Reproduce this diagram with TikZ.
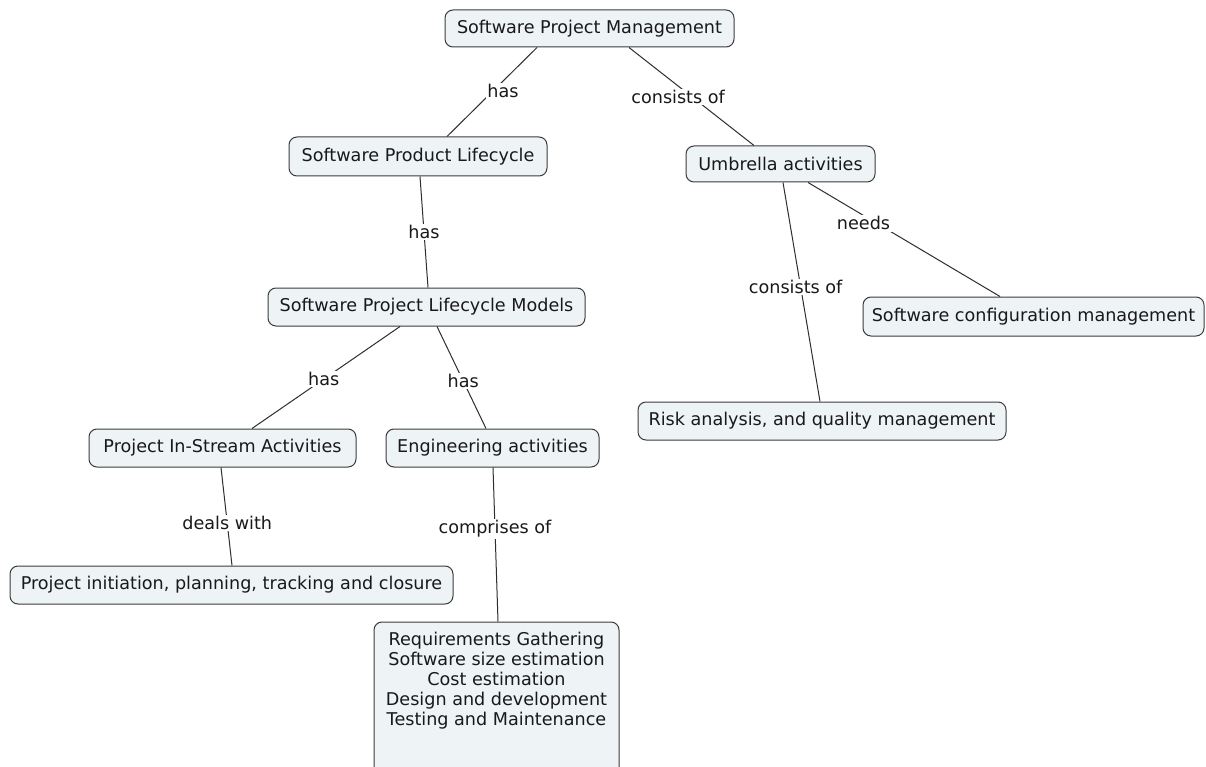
\documentclass[tikz,border=0pt]{standalone}
\usepackage{fontspec}
\setmainfont{DejaVu Sans}
\definecolor{boxfill}{HTML}{EEF3F5}
\definecolor{boxline}{HTML}{3C3C3C}
\definecolor{linkline}{HTML}{2E2E2E}
\newcommand{\mapfont}{\fontsize{17.6pt}{20pt}\selectfont}
\tikzset{
  concept/.style={draw=boxline, fill=boxfill, rounded corners=8pt, line width=1pt,
    font=\mapfont, inner sep=0pt, text=black!90},
  link/.style={draw=linkline, line width=1pt},
  tag/.style={fill=white, inner sep=1.5pt, font=\mapfont, text=black!90}
}
\begin{document}
\begin{tikzpicture}[x=1pt,y=-1pt]
\clip (0,0) rectangle (1206,767);
\fill[white] (0,0) rectangle (1206,767);

% concepts
\node[concept, minimum width=289, minimum height=37] (spm) at (589.5,28.5) {Software Project Management};
\node[concept, minimum width=258, minimum height=39] (spl) at (418,156.5) {Software Product Lifecycle};
\node[concept, minimum width=189, minimum height=36] (umb) at (780.5,164) {Umbrella activities};
\node[concept, minimum width=317, minimum height=38] (splm) at (426.5,307) {Software Project Lifecycle Models};
\node[concept, minimum width=341, minimum height=39] (scm) at (1033.5,316.5) {Software configuration management};
\node[concept, minimum width=368, minimum height=38] (risk) at (822,421) {Risk analysis, and quality management};
\node[concept, minimum width=267, minimum height=38] (pisa) at (222.5,448) {Project In-Stream Activities};
\node[concept, minimum width=213, minimum height=38] (eng) at (492.5,448) {Engineering activities};
\node[concept, minimum width=443, minimum height=38] (pip) at (231.5,585) {Project initiation, planning, tracking and closure};
\node[concept, minimum width=245, minimum height=160] (req) at (496.5,702) {};
\node[font=\mapfont, text=black!90, align=center, anchor=north, inner sep=0pt] (reqtext) at ([yshift=-10]req.north)
  {Requirements Gathering\\Software size estimation\\Cost estimation\\Design and development\\Testing and Maintenance};

% links
\path[link] ([xshift=-52.5]spm.south) -- node[tag, pos=0.49, xshift=10] {has} ([xshift=29]spl.north);
\path[link] ([xshift=39.5]spm.south) -- node[tag, pos=0.505, xshift=-14] {consists of} ([xshift=-26.5]umb.north);
\path[link] ([xshift=2]spl.south) -- node[tag, pos=0.5] {has} ([xshift=1.5]splm.north);
\path[link] ([xshift=2.5]umb.south) -- node[tag, pos=0.477, xshift=-5] {consists of} ([xshift=-2]risk.north);
\path[link] ([xshift=27.5]umb.south) -- node[tag, pos=0.357, xshift=-13] {needs} ([xshift=-33.5]scm.north);
\path[link] ([xshift=-26.5]splm.south) -- node[tag, pos=0.515] {has} ([xshift=29.5]pisa.north);
\path[link] ([xshift=10.5]splm.south) -- node[tag, pos=0.534] {has} ([xshift=-6.5]eng.north);
\path[link] ([xshift=-1.5]pisa.south) -- node[tag, pos=0.566] {deals with} ([xshift=0.5]pip.north);
\path[link] ([xshift=0.5]eng.south) -- node[tag, pos=0.4] {comprises of} ([xshift=1.5]req.north);
\end{tikzpicture}
\end{document}
